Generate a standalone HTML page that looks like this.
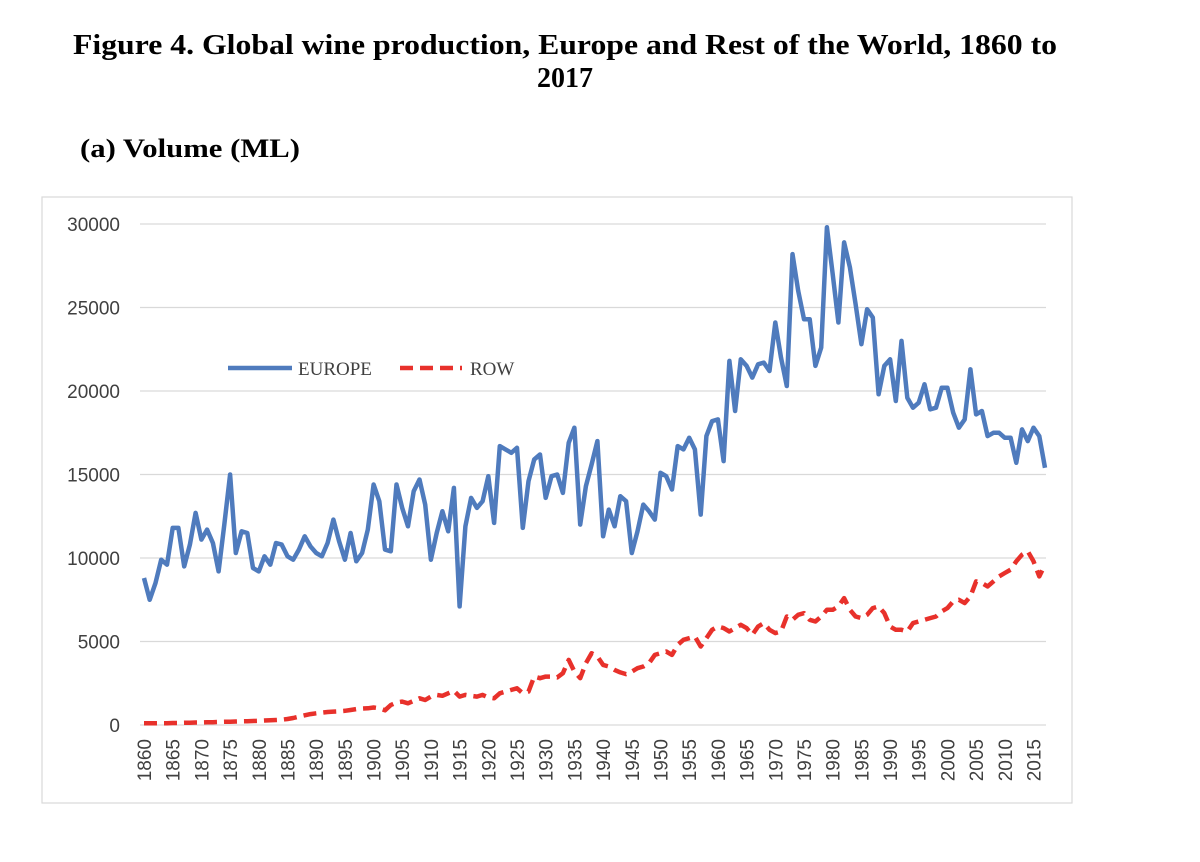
<!DOCTYPE html>
<html><head><meta charset="utf-8"><style>
body{margin:0;background:#fff;width:1200px;height:862px;overflow:hidden}
svg{display:block}
</style></head><body>
<svg width="1200" height="862">
<text x="73" y="54" textLength="984" lengthAdjust="spacingAndGlyphs" font-family="Liberation Serif" font-weight="bold" font-size="28">Figure 4. Global wine production, Europe and Rest of the World, 1860 to</text>
<text x="565" y="87" text-anchor="middle" font-family="Liberation Serif" font-weight="bold" font-size="28">2017</text>
<text x="80" y="157" textLength="220" lengthAdjust="spacingAndGlyphs" font-family="Liberation Serif" font-weight="bold" font-size="26">(a)  Volume (ML)</text>
<rect x="42" y="197" width="1030" height="606" fill="none" stroke="#d9d9d9" stroke-width="1.2"/>
<g id="grid"></g><g id="yt"></g><g id="xt"></g><g id="series"></g>
<g>
<line x1="228" y1="368" x2="292" y2="368" stroke="#4f7bbd" stroke-width="4.5"/>
<text x="298" y="375" font-family="Liberation Serif" font-size="19" fill="#404040">EUROPE</text>
<line x1="400" y1="368" x2="462" y2="368" stroke="#e8312b" stroke-width="4.5" stroke-dasharray="13,7"/>
<text x="470" y="375" font-family="Liberation Serif" font-size="19" fill="#404040">ROW</text>
</g>
</svg>
<script>
const startYear=1860;
const europe=[8800,7500,8500,9900,9600,11800,11800,9500,10800,12700,11100,11700,10900,9200,12000,15000,10300,11600,11500,9400,9200,10100,9600,10900,10800,10100,9900,10500,11300,10700,10300,10100,10900,12300,11000,9900,11500,9800,10300,11700,14400,13400,10500,10400,14400,13000,11900,14000,14700,13200,9900,11500,12800,11600,14200,7100,11900,13600,13000,13400,14900,12100,16700,16500,16300,16600,11800,14600,15900,16200,13600,14900,15000,13900,16900,17800,12000,14300,15600,17000,11300,12900,11900,13700,13400,10300,11600,13200,12800,12300,15100,14900,14100,16700,16500,17200,16500,12600,17300,18200,18300,15800,21800,18800,21900,21500,20800,21600,21700,21200,24100,22000,20300,28200,26000,24300,24300,21500,22600,29800,27000,24100,28900,27400,25200,22800,24900,24400,19800,21500,21900,19400,23000,19600,19000,19300,20400,18900,19000,20200,20200,18700,17800,18300,21300,18600,18800,17300,17500,17500,17200,17200,15700,17700,17000,17800,17300,15400];
const row=[100,100,100,110,110,120,120,130,140,150,150,160,170,180,190,200,210,220,230,240,250,270,280,300,320,360,420,500,580,650,700,740,780,800,820,850,900,950,980,1000,1050,1000,880,1200,1350,1400,1300,1450,1600,1500,1700,1800,1750,1900,2050,1700,1800,1750,1700,1800,1650,1600,1900,2000,2100,2200,1900,2000,2900,2800,2900,2900,2850,3100,3900,3200,2800,3700,4300,4100,3600,3500,3300,3150,3050,3200,3400,3500,3700,4200,4300,4400,4200,4800,5100,5200,5300,4700,5200,5700,5900,5800,5600,5800,6000,5800,5400,5900,6100,5700,5500,5600,6500,6300,6600,6700,6300,6200,6500,6900,6900,7100,7600,6900,6500,6400,6600,7000,7100,6700,5900,5700,5700,5600,6100,6200,6300,6400,6500,6800,7000,7400,7500,7300,7700,8600,8500,8300,8600,8900,9100,9300,9800,10200,10400,9800,8900,9600];
const yTicks=[0,5000,10000,15000,20000,25000,30000];
const xTickYears=[1860,1865,1870,1875,1880,1885,1890,1895,1900,1905,1910,1915,1920,1925,1930,1935,1940,1945,1950,1955,1960,1965,1970,1975,1980,1985,1990,1995,2000,2005,2010,2015];
const NS='http://www.w3.org/2000/svg';
const X=yr=>144+(yr-1860)*(1045-144)/157;
const Y=v=>725-v*(725-224)/30000;
function mk(t,a,p){const e=document.createElementNS(NS,t);for(const k in a)e.setAttribute(k,a[k]);p.appendChild(e);return e;}
const grid=document.getElementById('grid'),yt=document.getElementById('yt'),xt=document.getElementById('xt'),ser=document.getElementById('series');
yTicks.forEach(v=>{
 const l=mk('line',{x1:140,x2:1046,y1:Y(v),y2:Y(v),stroke:'#d9d9d9','stroke-width':1.3},grid);
 
 
 const t=mk('text',{x:120,y:Y(v)+7,'text-anchor':'end','font-family':'Liberation Sans','font-size':19,fill:'#404040'},yt);
 t.textContent=v;
 
 
});
xTickYears.forEach(yr=>{
 const x=X(yr);
 const t=mk('text',{x:0,y:0,transform:`translate(${x+7},739) rotate(-90)`,'text-anchor':'end','font-family':'Liberation Sans','font-size':19,fill:'#404040'},xt);
 t.textContent=yr;
 
 
});
function path(arr){return arr.map((v,i)=>(i?'L':'M')+X(startYear+i).toFixed(1)+','+Y(v).toFixed(1)).join('');}
const pe=mk('path',{d:path(europe),fill:'none',stroke:'#4f7bbd','stroke-width':4.5,'stroke-linejoin':'round'},ser);


const pr=mk('path',{d:path(row),fill:'none',stroke:'#e8312b','stroke-width':4.5,'stroke-dasharray':'13,7','stroke-linejoin':'round'},ser);


</script>
</body></html>
